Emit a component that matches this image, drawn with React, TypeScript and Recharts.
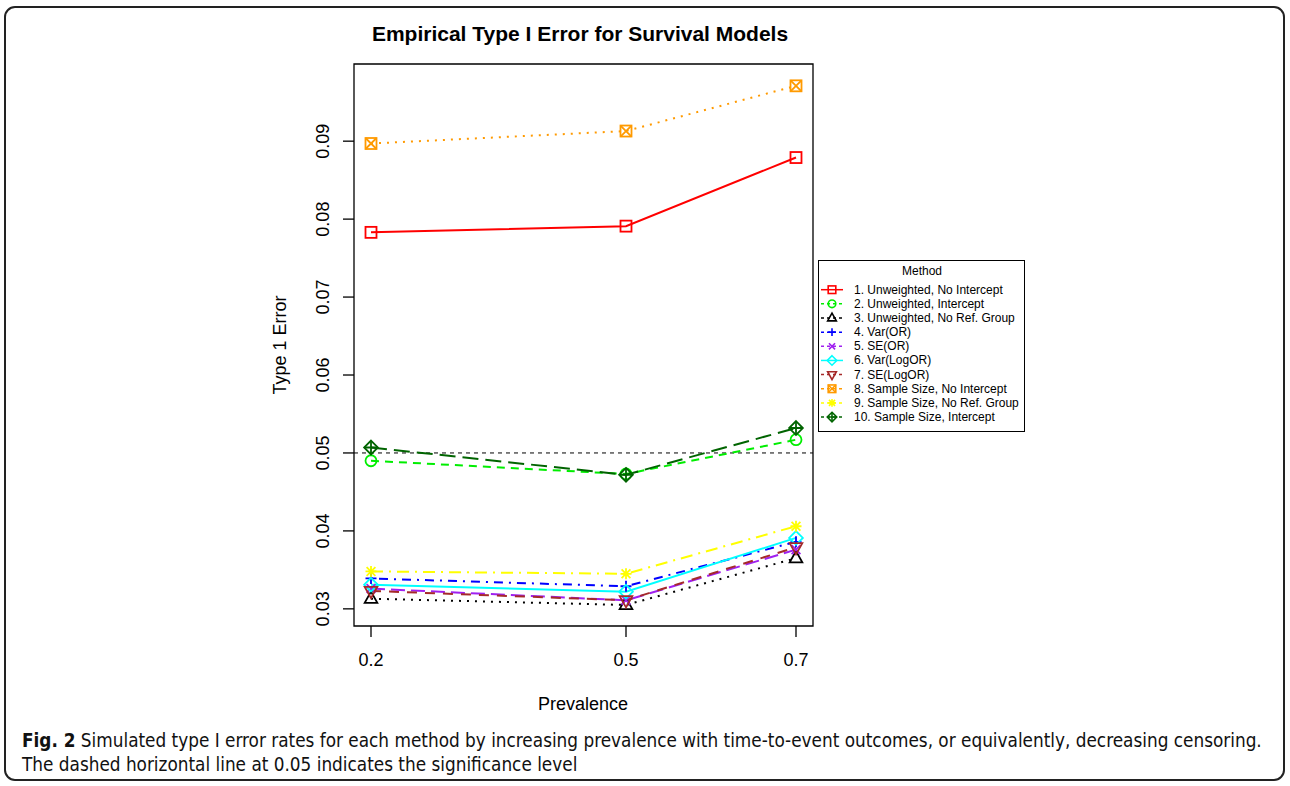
import React from 'react';
import { LineChart, Line, XAxis, YAxis, ReferenceLine, ReferenceArea, Legend, Label } from 'recharts';

const prevalence = [0.2, 0.5, 0.7];
const xTicks = [0.2, 0.5, 0.7];
const yTicks = [0.03, 0.04, 0.05, 0.06, 0.07, 0.08, 0.09];

const m1 = [0.0783, 0.0791, 0.0879];
const m2 = [0.049, 0.0473, 0.0517];
const m3 = [0.0313, 0.0305, 0.0365];
const m4 = [0.0339, 0.0329, 0.0386];
const m5 = [0.0326, 0.0311, 0.0376];
const m6 = [0.0331, 0.0322, 0.0391];
const m7 = [0.0323, 0.0311, 0.0379];
const m8 = [0.0897, 0.0913, 0.0971];
const m9 = [0.0348, 0.0345, 0.0406];
const m10 = [0.0507, 0.0472, 0.0532];

const methodNames = [
  '1. Unweighted, No Intercept',
  '2. Unweighted, Intercept',
  '3. Unweighted, No Ref. Group',
  '4. Var(OR)',
  '5. SE(OR)',
  '6. Var(LogOR)',
  '7. SE(LogOR)',
  '8. Sample Size, No Intercept',
  '9. Sample Size, No Ref. Group',
  '10. Sample Size, Intercept',
];

const seriesValues = [m1, m2, m3, m4, m5, m6, m7, m8, m9, m10];

const styles = [
  { color: '#FF0000', dash: undefined, shape: 'square' },
  { color: '#00EE00', dash: '8 6', shape: 'circle' },
  { color: '#000000', dash: '2 6', shape: 'triUp' },
  { color: '#0000FF', dash: '2 6 9 6', shape: 'plus' },
  { color: '#A020F0', dash: '14 6', shape: 'cross' },
  { color: '#00FFFF', dash: undefined, shape: 'diamond' },
  { color: '#A52A2A', dash: '10 8', shape: 'triDown' },
  { color: '#FF9A00', dash: '2 6', shape: 'squareX' },
  { color: '#FFFF00', dash: '12 6 2 6', shape: 'star' },
  { color: '#006400', dash: '16 7', shape: 'diamondPlus' },
];

const rows = prevalence.map((x, i) => {
  const r: any = { x };
  seriesValues.forEach((s, k) => {
    r['m' + (k + 1)] = s[i];
  });
  return r;
});

const FONT = '"Liberation Sans", Arial, Helvetica, sans-serif';

function Marker({ shape, cx, cy, color, s = 5.5, sw = 1.8 }: any) {
  const common = { fill: 'none', stroke: color, strokeWidth: sw };
  const plus = `M${cx - s},${cy} H${cx + s} M${cx},${cy - s} V${cy + s}`;
  const cross = `M${cx - s * 0.8},${cy - s * 0.8} L${cx + s * 0.8},${cy + s * 0.8} M${cx - s * 0.8},${cy + s * 0.8} L${cx + s * 0.8},${cy - s * 0.8}`;
  const d = s * 1.25;
  const diamond = `${cx},${cy - d} ${cx + d},${cy} ${cx},${cy + d} ${cx - d},${cy}`;
  switch (shape) {
    case 'square':
      return <rect x={cx - s} y={cy - s} width={2 * s} height={2 * s} {...common} />;
    case 'circle':
      return <circle cx={cx} cy={cy} r={s} {...common} />;
    case 'triUp':
      return <polygon points={`${cx},${cy - s * 1.3} ${cx - s * 1.15},${cy + s * 0.75} ${cx + s * 1.15},${cy + s * 0.75}`} {...common} />;
    case 'triDown':
      return <polygon points={`${cx},${cy + s * 1.3} ${cx - s * 1.15},${cy - s * 0.75} ${cx + s * 1.15},${cy - s * 0.75}`} {...common} />;
    case 'plus':
      return <path d={plus} {...common} />;
    case 'cross':
      return <path d={cross} {...common} />;
    case 'diamond':
      return <polygon points={diamond} {...common} />;
    case 'squareX':
      return (
        <g>
          <rect x={cx - s} y={cy - s} width={2 * s} height={2 * s} {...common} />
          <path d={`M${cx - s},${cy - s} L${cx + s},${cy + s} M${cx - s},${cy + s} L${cx + s},${cy - s}`} {...common} />
        </g>
      );
    case 'star':
      return <path d={plus + ' ' + cross} {...common} />;
    case 'diamondPlus':
      return (
        <g>
          <polygon points={diamond} {...common} />
          <path d={`M${cx - d},${cy} H${cx + d} M${cx},${cy - d} V${cy + d}`} {...common} />
        </g>
      );
    default:
      return null;
  }
}

function LegendBox() {
  const w = 207;
  const h = 172;
  return (
    <svg width={w} height={h} style={{ display: 'block', fontFamily: FONT }}>
      <rect x={0.5} y={0.5} width={w - 1} height={h - 1} fill="#fff" stroke="#000" strokeWidth={1} />
      <text x={104} y={11} textAnchor="middle" dominantBaseline="central" fontSize={12} fill="#000">
        Method
      </text>
      {methodNames.map((name, i) => {
        const st = styles[i];
        const cy = 29.7 + i * 14.15;
        return (
          <g key={name}>
            <line x1={3} x2={25} y1={cy} y2={cy} stroke={st.color} strokeWidth={1.5} strokeDasharray={st.dash ? '3 3' : undefined} />
            <Marker shape={st.shape} cx={14} cy={cy} color={st.color} s={3.8} sw={1.6} />
            <text x={36} y={cy} dominantBaseline="central" fontSize={12} fill="#000">
              {name}
            </text>
          </g>
        );
      })}
    </svg>
  );
}

const YTick = (props: any) => {
  const { y, payload } = props;
  return (
    <text x={323} y={y} transform={`rotate(-90, 323, ${y})`} textAnchor="middle" dominantBaseline="central" fontSize={18} fontFamily={FONT} fill="#000">
      {payload.value.toFixed(2)}
    </text>
  );
};

const XTick = (props: any) => {
  const { x, payload } = props;
  return (
    <text x={x} y={660} textAnchor="middle" dominantBaseline="central" fontSize={18} fontFamily={FONT} fill="#000">
      {String(payload.value)}
    </text>
  );
};

export default function App() {
  return (
    <div style={{ position: 'absolute', left: 0, top: 0, width: 1290, height: 786, background: '#fff' }}>
      <div
        style={{
          position: 'absolute',
          left: 4,
          top: 6,
          width: 1281,
          height: 775,
          border: '2px solid #222',
          borderRadius: 11,
          boxSizing: 'border-box',
        }}
      />
      <div
        style={{
          position: 'absolute',
          left: 280,
          width: 600,
          top: 21,
          textAlign: 'center',
          fontFamily: FONT,
          fontWeight: 'bold',
          fontSize: 21,
          lineHeight: '26px',
          color: '#000',
        }}
      >
        Empirical Type I Error for Survival Models
      </div>
      <div style={{ position: 'absolute', left: 0, top: 0 }}>
        <LineChart width={1290} height={786} data={rows} margin={{ top: 64, right: 477, left: 294, bottom: 110 }}>
          <XAxis
            dataKey="x"
            type="number"
            domain={[0.18, 0.72]}
            ticks={xTicks}
            allowDataOverflow
            axisLine={false}
            tickSize={11}
            tickLine={{ stroke: '#000', strokeWidth: 1.3 }}
            tick={<XTick />}
            height={50}
          >
            <Label
              content={() => (
                <text x={583} y={704} textAnchor="middle" dominantBaseline="central" fontSize={18} fontFamily={FONT} fill="#000">
                  Prevalence
                </text>
              )}
            />
          </XAxis>
          <YAxis
            type="number"
            domain={[0.0278, 0.0999]}
            ticks={yTicks}
            allowDataOverflow
            axisLine={false}
            tickSize={11}
            tickLine={{ stroke: '#000', strokeWidth: 1.3 }}
            tick={<YTick />}
            width={60}
          >
            <Label
              content={() => (
                <text x={280} y={345} transform="rotate(-90, 280, 345)" textAnchor="middle" dominantBaseline="central" fontSize={18} fontFamily={FONT} fill="#000">
                  Type 1 Error
                </text>
              )}
            />
          </YAxis>
          <ReferenceArea x1={0.18} x2={0.72} y1={0.0278} y2={0.0999} fill="none" stroke="#000" strokeWidth={1.3} ifOverflow="visible" />
          <ReferenceLine y={0.05} stroke="#000" strokeWidth={1} strokeDasharray="4 4" />
          {styles.map((st, k) => {
            const key = 'm' + (k + 1);
            return (
              <Line
                key={key}
                dataKey={key}
                name={methodNames[k]}
                stroke={st.color}
                strokeWidth={2}
                strokeDasharray={st.dash}
                isAnimationActive={false}
                activeDot={false}
                dot={(p: any) => <Marker key={`${key}-${p.index}`} shape={st.shape} cx={p.cx} cy={p.cy} color={st.color} />}
              />
            );
          })}
          <Legend
            layout="vertical"
            align="center"
            verticalAlign="middle"
            content={() => <LegendBox />}
            wrapperStyle={{ position: 'absolute', left: 818, top: 260, width: 207, height: 172 }}
          />
        </LineChart>
      </div>
      <div
        style={{
          position: 'absolute',
          left: 22,
          top: 729,
          whiteSpace: 'nowrap',
          fontFamily: '"Liberation Sans Narrow", "DejaVu Sans Condensed", sans-serif',
          fontSize: 18.8,
          lineHeight: '24px',
          color: '#111',
        }}
      >
        <b>Fig. 2</b> Simulated type I error rates for each method by increasing prevalence with time-to-event outcomes, or equivalently, decreasing censoring.
        <br />
        The dashed horizontal line at 0.05 indicates the significance level
      </div>
    </div>
  );
}
